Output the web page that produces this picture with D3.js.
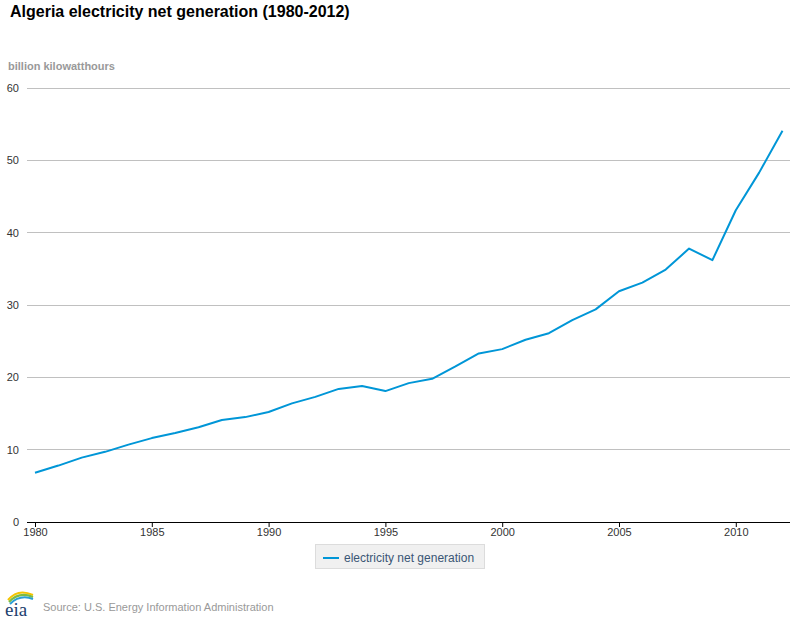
<!DOCTYPE html>
<html>
<head>
<meta charset="utf-8">
<script src="https://cdn.jsdelivr.net/npm/d3@7"></script>
<style>
body { margin: 0; background: #fff; }
svg { font-family: "Liberation Sans", Arial, sans-serif; }
</style>
</head>
<body>
<svg id="chart" width="800" height="620"></svg>
<script>
const years = d3.range(1980, 2013);
const generation = [6.8, 7.8, 8.9, 9.7, 10.7, 11.6, 12.3, 13.1, 14.1, 14.5, 15.2, 16.4, 17.3, 18.4, 18.8, 18.1, 19.2, 19.8, 21.5, 23.3, 23.9, 25.2, 26.1, 27.9, 29.4, 31.9, 33.1, 34.9, 37.8, 36.2, 43.1, 48.3, 54.1];
const yTicks = [0, 10, 20, 30, 40, 50, 60];
const xTicks = [1980, 1985, 1990, 1995, 2000, 2005, 2010];
const seriesName = "electricity net generation";

const svg = d3.select("#chart");
const x = d3.scaleLinear().domain([1980, 2012]).range([35, 782.5]);
const y = d3.scaleLinear().domain([0, 60]).range([522, 88]);

svg.append("text").attr("x", 10).attr("y", 17).attr("font-size", 16).attr("font-weight", "bold").attr("fill", "#000")
  .text("Algeria electricity net generation (1980-2012)");
svg.append("text").attr("x", 8).attr("y", 70).attr("font-size", 11).attr("font-weight", "bold").attr("fill", "#999")
  .text("billion kilowatthours");

// grid
const grid = svg.append("g");
grid.selectAll("line").data(yTicks.filter(d => d > 0)).join("line")
  .attr("x1", 27).attr("x2", 790).attr("y1", d => y(d)).attr("y2", d => y(d))
  .attr("stroke", "#c0c0c0").attr("stroke-width", 1).attr("shape-rendering", "crispEdges");
svg.append("g").selectAll("text").data(yTicks).join("text")
  .attr("x", 19).attr("y", d => y(d) + 4).attr("text-anchor", "end").attr("font-size", 11).attr("fill", "#333")
  .text(d => d);

// x axis
const xAxis = d3.axisBottom(x).tickValues(xTicks).tickFormat(d3.format("d")).tickSize(5).tickSizeOuter(0);
const gx = svg.append("g").attr("transform", `translate(0,${y(0)})`).call(xAxis);
gx.select(".domain").remove();
gx.append("line").attr("x1", 27).attr("x2", 790).attr("y1", 0.5).attr("y2", 0.5).attr("stroke", "#000");
gx.selectAll(".tick line").attr("stroke", "#000");
gx.selectAll(".tick text").attr("font-size", 11).attr("fill", "#333").attr("y", 6)
  .attr("font-family", '"Liberation Sans", Arial, sans-serif');

// line
const line = d3.line().x((d, i) => x(years[i])).y(d => y(d));
svg.append("path").datum(generation).attr("d", line).attr("fill", "none")
  .attr("stroke", "#0096d7").attr("stroke-width", 2).attr("stroke-linejoin", "round");

// legend
const lg = svg.append("g");
lg.append("rect").attr("x", 315.5).attr("y", 544.5).attr("width", 169).attr("height", 24)
  .attr("fill", "#f0f0f0").attr("stroke", "#dcdcdc");
lg.append("line").attr("x1", 323).attr("x2", 339).attr("y1", 558).attr("y2", 558)
  .attr("stroke", "#0096d7").attr("stroke-width", 2);
lg.append("text").attr("x", 344).attr("y", 562).attr("font-size", 12).attr("fill", "#3a5675").text(seriesName);

// source + logo
svg.append("text").attr("x", 43).attr("y", 611).attr("font-size", 11).attr("fill", "#999")
  .text("Source: U.S. Energy Information Administration");
const logo = svg.append("g");
logo.append("path").attr("d", "M8,600 Q18,588 33,595").attr("fill", "none").attr("stroke", "#f5c400").attr("stroke-width", 2);
logo.append("path").attr("d", "M9,602 Q19,591 33,597").attr("fill", "none").attr("stroke", "#7dbb42").attr("stroke-width", 2);
logo.append("path").attr("d", "M10,604 Q20,594 33,599").attr("fill", "none").attr("stroke", "#2a9fd6").attr("stroke-width", 2);
logo.append("text").attr("x", 5).attr("y", 616).attr("font-size", 19).attr("font-family", "Liberation Serif, serif")
  .attr("fill", "#1d3f6e").text("eia");
</script>
</body>
</html>
